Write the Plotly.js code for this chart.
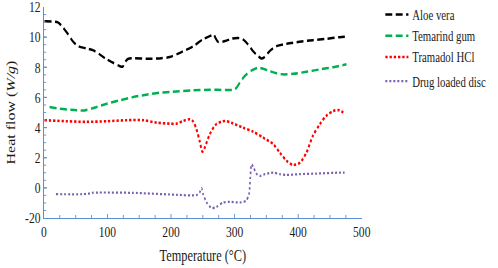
<!DOCTYPE html>
<html>
<head>
<meta charset="utf-8">
<script src="https://cdn.plot.ly/plotly-3.0.1.min.js"></script>
<style>
html,body{margin:0;padding:0;background:#fff;overflow:hidden;}
#wrap{width:498px;height:268px;overflow:hidden;position:relative;}
#chart{width:647px;height:276px;transform:translateY(-8px) scaleX(0.7697);transform-origin:0 0;}
</style>
</head>
<body>
<div id="wrap"><div id="chart"></div></div>
<script>
const seriesNames = ["Aloe vera", "Temarind gum", "Tramadol HCl", "Drug loaded disc"];

const aloeX = [1, 22, 28, 38, 46, 54, 67, 78, 88, 99, 109, 119, 124, 127, 132, 140, 161, 182, 198, 214, 235, 250, 263, 267, 270, 274, 285, 295, 305, 313, 321, 329, 337, 342, 347, 355, 366, 382, 402, 423, 444, 465, 474];
const aloeY = [11.05, 10.98, 10.75, 10.2, 9.7, 9.4, 9.25, 9.12, 8.85, 8.52, 8.3, 8.08, 8.04, 8.3, 8.55, 8.6, 8.57, 8.59, 8.68, 8.96, 9.40, 9.85, 10.11, 10.18, 9.95, 9.69, 9.74, 9.89, 9.95, 9.85, 9.52, 9.07, 8.74, 8.59, 8.68, 9.07, 9.40, 9.56, 9.69, 9.80, 9.89, 10.0, 10.02];

const gumX = [9, 25, 43, 64, 78, 99, 119, 140, 161, 182, 203, 235, 261, 287, 298, 303, 308, 316, 327, 337, 345, 355, 366, 376, 392, 413, 434, 455, 476];
const gumY = [5.37, 5.25, 5.18, 5.14, 5.3, 5.58, 5.8, 6.02, 6.18, 6.31, 6.38, 6.47, 6.51, 6.49, 6.51, 6.64, 6.97, 7.42, 7.79, 7.97, 7.90, 7.75, 7.60, 7.53, 7.57, 7.70, 7.86, 8.01, 8.2];

const tramX = [1, 36, 67, 99, 130, 156, 177, 198, 209, 219, 230, 235, 240, 245, 249.5, 253, 261, 271, 285, 295, 313, 329, 345, 361, 371, 382, 392, 403, 413, 423, 434, 444, 455, 465, 473];
const tramY = [4.49, 4.42, 4.38, 4.42, 4.49, 4.49, 4.33, 4.26, 4.26, 4.44, 4.55, 4.39, 3.89, 3.11, 2.40, 2.67, 3.56, 4.22, 4.44, 4.32, 3.99, 3.73, 3.33, 2.89, 2.34, 1.79, 1.52, 1.68, 2.34, 3.44, 4.22, 4.77, 5.10, 5.15, 4.92];

const discX = [19, 60, 71, 76, 86, 139, 198, 209, 240, 245, 248, 250.5, 256, 264, 271.5, 282, 292.5, 308, 318, 322.6, 324.7, 326.7, 330, 334, 340, 347.5, 361, 371, 382, 402, 429, 465, 473];
const discY = [-0.42, -0.42, -0.38, -0.33, -0.31, -0.33, -0.44, -0.46, -0.48, -0.31, -0.02, -0.42, -0.97, -1.34, -1.26, -0.97, -0.93, -0.97, -0.86, -0.42, 0.68, 1.57, 1.34, 0.95, 0.79, 0.91, 1.01, 0.91, 0.86, 0.91, 0.95, 1.01, 1.01];

const yTickVals = [-2, 0, 2, 4, 6, 8, 10, 12];
const yTickText = ["-20", "0", "2", "4", "6", "8", "10", "12"];

const axisBlue = "#5b8fd3";
const serif = "Liberation Serif, Times New Roman, serif";

const traces = [
  {x: aloeX, y: aloeY, name: seriesNames[0], legendgroup: "main", mode: "lines",
   line: {color: "#000000", width: 2.5, dash: "9px,4.5px", shape: "spline", smoothing: 0.8}},
  {x: gumX, y: gumY, name: seriesNames[1], legendgroup: "main", mode: "lines",
   line: {color: "#00b050", width: 2.5, dash: "9px,4.5px", shape: "spline", smoothing: 0.8}},
  {x: tramX, y: tramY, name: seriesNames[2], legendgroup: "main", mode: "lines",
   line: {color: "#ff0000", width: 2.6, dash: "3px,2.5px", shape: "spline", smoothing: 0.8}},
  {x: discX, y: discY, name: seriesNames[3], legendgroup: "disc", mode: "lines",
   line: {color: "#7b62b0", width: 2.2, dash: "2.6px,2.6px", shape: "spline", smoothing: 0.7}}
];

const layout = {
  width: 647, height: 276,
  margin: {l: 57, r: 177, t: 15, b: 50, autoexpand: false},
  paper_bgcolor: "#ffffff", plot_bgcolor: "#ffffff",
  font: {family: serif, color: "#1a1a1a", size: 15},
  showlegend: true,
  legend: {x: 1.062, y: 1.038, xanchor: "left", yanchor: "top", font: {family: serif, size: 14, color: "#1a1a1a"},
           bgcolor: "rgba(0,0,0,0)", tracegroupgap: 3, traceorder: "grouped"},
  xaxis: {range: [0, 500], dtick: 100, tick0: 0, ticks: "inside", ticklen: 4, tickwidth: 1.2, tickcolor: axisBlue,
          showline: true, linecolor: axisBlue, linewidth: 1.4, showgrid: false, zeroline: false,
          minor: {dtick: 25, tick0: 0, ticks: "inside", ticklen: 3, tickwidth: 1, tickcolor: axisBlue, showgrid: false},
          tickfont: {family: serif, size: 15, color: "#1a1a1a"}, ticklabeloverflow: "allow",
          title: {text: "Temperature (°C)", font: {family: serif, size: 16, color: "#1a1a1a"}, standoff: 10}},
  yaxis: {range: [-2, 12], tickvals: yTickVals, ticktext: yTickText, ticks: "inside", ticklen: 4, tickwidth: 1.2, tickcolor: axisBlue,
          showline: true, linecolor: axisBlue, linewidth: 1.4, showgrid: false, zeroline: false,
          minor: {dtick: 0.5, tick0: 0, ticks: "inside", ticklen: 3, tickwidth: 1, tickcolor: axisBlue, showgrid: false},
          tickfont: {family: serif, size: 15, color: "#1a1a1a"}, ticklabeloverflow: "allow",
          title: {text: "Heat flow (<i>W/g</i>)", font: {family: serif, size: 16, color: "#1a1a1a"}, standoff: 8}}
};

Plotly.newPlot("chart", traces, layout, {displayModeBar: false, staticPlot: true});
</script>
</body>
</html>
